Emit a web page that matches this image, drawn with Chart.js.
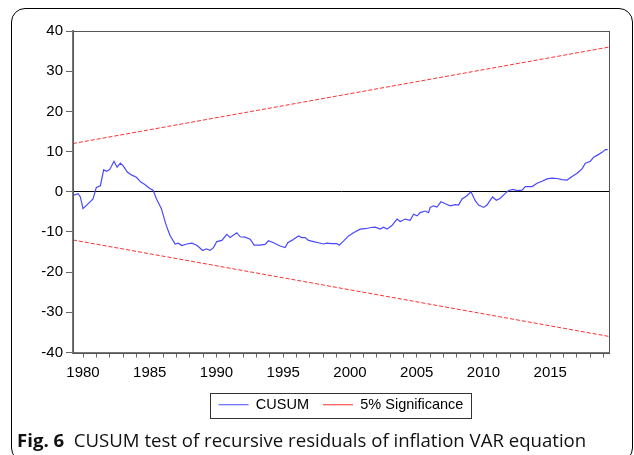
<!DOCTYPE html>
<html>
<head>
<meta charset="utf-8">
<script src="https://cdn.jsdelivr.net/npm/chart.js@4.4.1/dist/chart.umd.min.js"></script>
<style>
  html, body { margin: 0; padding: 0; background: #fff; }
  body { width: 634px; height: 455px; position: relative; overflow: hidden; }
  #frame {
    position: absolute; left: 11px; top: 8px; width: 620px; height: 452px;
    border: 1px solid #000; border-radius: 14px;
  }
  #cusumChart { position: absolute; left: 0; top: 0; }
  #caption {
    position: absolute; left: 17px; top: 427px; white-space: nowrap;
    font-family: "Open Sans", sans-serif; font-size: 18.6px; color: #111;
  }
  #caption b { font-weight: 700; }
</style>
</head>
<body>
<div id="frame"></div>
<canvas id="cusumChart" width="634" height="430"></canvas>
<div id="caption"><b>Fig. 6</b>&nbsp; CUSUM test of recursive residuals of inflation VAR equation</div>

<script>
// CUSUM series (year, value)
const cusumYears = [
  1979.25, 1979.63, 1979.80, 1980.00, 1980.37, 1980.75, 1981.00, 1981.30, 1981.55, 1981.75,
  1982.00, 1982.32, 1982.55, 1982.80, 1983.00, 1983.32, 1983.62, 1984.00, 1984.33, 1984.63,
  1985.00, 1985.25, 1985.49, 1985.87, 1986.20, 1986.37, 1986.52, 1986.90, 1987.14, 1987.40,
  1987.77, 1988.15, 1988.52, 1988.97, 1989.22, 1989.52, 1989.77, 1990.02, 1990.40, 1990.77,
  1991.02, 1991.52, 1991.77, 1992.14, 1992.52, 1992.82, 1993.27, 1993.64, 1993.89, 1994.27,
  1994.77, 1995.14, 1995.34, 1995.64, 1996.14, 1996.39, 1996.64, 1996.89, 1997.26, 1997.64,
  1998.01, 1998.27, 1998.64, 1999.02, 1999.19, 1999.51, 1999.89, 2000.26, 2000.76, 2001.14,
  2001.59, 2001.89, 2002.26, 2002.51, 2002.77, 2003.14, 2003.52, 2003.76, 2004.14, 2004.51,
  2004.76, 2005.02, 2005.26, 2005.64, 2005.88, 2006.01, 2006.26, 2006.51, 2006.81, 2007.14,
  2007.51, 2007.89, 2008.13, 2008.39, 2008.76, 2009.06, 2009.39, 2009.63, 2010.01, 2010.26,
  2010.51, 2010.68, 2010.96, 2011.26, 2011.63, 2011.88, 2012.21, 2012.51, 2012.89, 2013.13,
  2013.64, 2014.01, 2014.39, 2014.76, 2015.13, 2015.51, 2015.88, 2016.26, 2016.63, 2017.01,
  2017.38, 2017.63, 2018.01, 2018.25, 2018.63, 2018.88, 2019.13, 2019.30
];
const cusumValues = [
  -0.9, -0.5, -1.3, -4.2, -3.0, -1.8, 1.1, 1.5, 5.5, 5.1,
  5.5, 7.6, 6.1, 7.1, 6.5, 4.9, 4.2, 3.6, 2.4, 1.8,
  0.8, 0.4, -1.7, -4.2, -8.0, -9.6, -10.9, -13.0, -12.8, -13.4,
  -13.0, -12.8, -13.3, -14.6, -14.2, -14.6, -13.9, -12.4, -12.1, -10.6,
  -11.4, -10.2, -11.2, -11.3, -11.8, -13.3, -13.3, -13.1, -12.2, -12.7,
  -13.5, -13.9, -12.7, -12.1, -11.0, -11.4, -11.4, -12.1, -12.4, -12.7,
  -13.0, -12.8, -12.9, -12.9, -13.3, -12.3, -11.0, -10.2, -9.3, -9.2,
  -8.9, -8.8, -9.3, -8.8, -9.3, -8.4, -6.8, -7.4, -6.8, -7.1,
  -5.6, -6.0, -5.2, -4.8, -5.2, -3.9, -3.5, -3.8, -2.5, -3.0,
  -3.5, -3.2, -3.3, -1.8, -1.0, 0.0, -2.3, -3.3, -3.9, -3.3,
  -2.1, -1.3, -2.1, -1.6, -0.4, 0.3, 0.6, 0.3, 0.4, 1.3,
  1.3, 2.1, 2.6, 3.2, 3.4, 3.3, 3.0, 2.9, 3.8, 4.6,
  5.7, 7.1, 7.6, 8.6, 9.3, 9.8, 10.5, 10.5
];

// 5% significance bounds (straight lines)
const boundYears = [1979.25, 2019.4];
const upperBound = [12, 36];
const lowerBound = [-12, -36];

// x axis: one tick per year, labels every 5 years
const tickYears = [];
for (let y = 1980; y <= 2019; y++) tickYears.push(y);
const yTicks = [-40, -30, -20, -10, 0, 10, 20, 30, 40];

const toPoints = (xs, ys) => xs.map((x, i) => ({ x: x, y: ys[i] }));

const tickFont = { family: 'Arial, "Liberation Sans", sans-serif', size: 15 };
const legendFont = { family: 'Arial, "Liberation Sans", sans-serif', size: 14.5 };

// draws the frame round the plot and the box round the legend
const framePlugin = {
  id: 'frames',
  afterDraw(chart) {
    const ctx = chart.ctx;
    const a = chart.chartArea;
    ctx.save();
    ctx.strokeStyle = '#555';
    ctx.lineWidth = 1;
    ctx.strokeRect(Math.round(a.left) + 0.5, Math.round(a.top) + 0.5,
      Math.round(a.right - a.left), Math.round(a.bottom - a.top));

    const boxes = chart.legend.legendHitBoxes;
    if (boxes && boxes.length) {
      let minX = Infinity, maxX = -Infinity, minY = Infinity, maxY = -Infinity;
      boxes.forEach(b => {
        minX = Math.min(minX, b.left); maxX = Math.max(maxX, b.left + b.width);
        minY = Math.min(minY, b.top); maxY = Math.max(maxY, b.top + b.height);
      });
      ctx.strokeStyle = '#333';
      ctx.strokeRect(Math.round(minX - 9) + 0.5, Math.round(minY - 5) + 0.5,
        Math.round(maxX - minX + 16), Math.round(maxY - minY + 10));
    }
    ctx.restore();
  }
};

new Chart(document.getElementById('cusumChart'), {
  type: 'line',
  data: {
    datasets: [
      {
        label: 'CUSUM',
        data: toPoints(cusumYears, cusumValues),
        borderColor: '#4848ff',
        borderWidth: 1.2,
        pointRadius: 0,
        tension: 0,
        order: 0
      },
      {
        label: '5% Significance',
        data: toPoints(boundYears, upperBound),
        borderColor: '#ff3030',
        borderWidth: 1,
        borderDash: [4, 2],
        pointRadius: 0,
        order: 1
      },
      {
        label: '',
        data: toPoints(boundYears, lowerBound),
        borderColor: '#ff3030',
        borderWidth: 1,
        borderDash: [4, 2],
        pointRadius: 0,
        order: 1
      }
    ]
  },
  options: {
    responsive: false,
    animation: false,
    layout: { padding: { left: 0, right: 25, top: 31, bottom: 8 } },
    scales: {
      x: {
        type: 'linear',
        min: 1979.25,
        max: 2019.4,
        afterBuildTicks: scale => { scale.ticks = tickYears.map(v => ({ value: v })); },
        afterFit: scale => { scale.height = 31; },
        ticks: {
          autoSkip: false,
          maxRotation: 0,
          padding: 6,
          color: '#000',
          font: tickFont,
          callback: v => (v % 5 === 0 ? String(v) : '')
        },
        grid: { drawOnChartArea: false, tickLength: 5, color: '#666' },
        border: { color: '#777', width: 2 }
      },
      y: {
        min: -40,
        max: 40,
        afterBuildTicks: scale => { scale.ticks = yTicks.map(v => ({ value: v })); },
        afterFit: scale => { scale.width = 73; },
        ticks: { padding: 3, color: '#000', font: tickFont },
        grid: {
          tickLength: 7,
          color: c => (c.tick && c.tick.value === 0 ? '#000' : 'rgba(0,0,0,0)'),
          tickColor: '#666'
        },
        border: { color: '#777', width: 2 }
      }
    },
    plugins: {
      legend: {
        position: 'bottom',
        fullSize: false,
        labels: {
          usePointStyle: true,
          pointStyle: 'line',
          pointStyleWidth: 30,
          color: '#000',
          font: legendFont,
          padding: 14,
          filter: item => item.text !== ''
        }
      },
      tooltip: { enabled: false }
    }
  },
  plugins: [framePlugin]
});
</script>
</body>
</html>
